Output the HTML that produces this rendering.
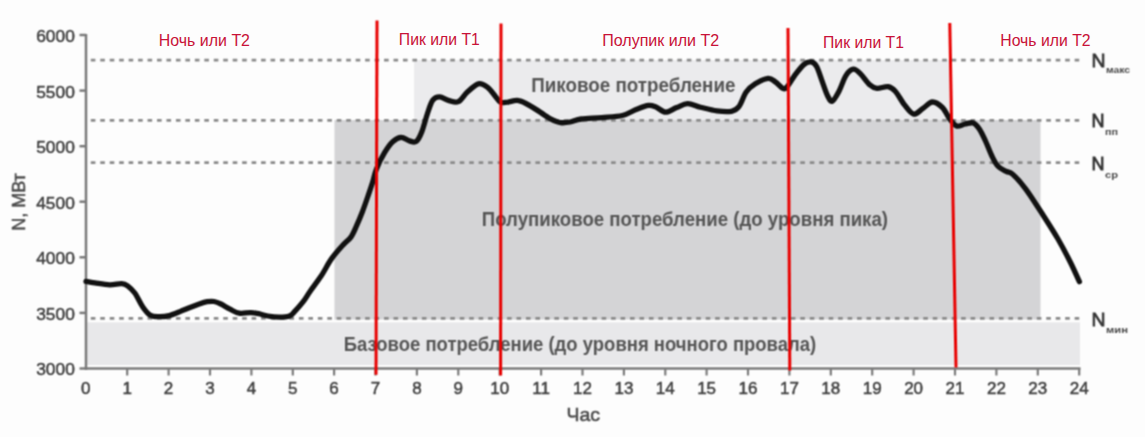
<!DOCTYPE html>
<html><head><meta charset="utf-8">
<style>
html,body{margin:0;padding:0;background:#fff;}
svg{display:block;}

text{font-family:"Liberation Sans",sans-serif;}
</style></head>
<body>
<svg width="1145" height="437" viewBox="0 0 1145 437">
<defs><filter id="soft" x="0" y="0" width="1145" height="437" filterUnits="userSpaceOnUse" color-interpolation-filters="sRGB"><feConvolveMatrix order="3" kernelMatrix="1 2 1 2 4 2 1 2 1" divisor="16" edgeMode="duplicate"/></filter></defs>
<g filter="url(#soft)">
<rect x="-10" y="-10" width="1165" height="457" fill="#fdfdfd"/>
<rect x="86" y="322.3" width="994" height="42.7" fill="#e8e8ea"/>
<rect x="334.5" y="120" width="706" height="199.5" fill="#d4d4d6"/>
<rect x="414" y="60" width="536" height="60" fill="#ebebed"/>
<g stroke="#8a8a8a" stroke-width="2.7" stroke-dasharray="4.6 4.86" fill="none">
<line x1="90.8" y1="60.2" x2="1080" y2="60.2"/>
<line x1="90.8" y1="120.3" x2="1080" y2="120.3"/>
<line x1="90.8" y1="162.6" x2="1080" y2="162.6"/>
<line x1="90.8" y1="318.4" x2="1080" y2="318.4"/>
</g>
<g stroke="#7a7a7a" stroke-width="2.5" fill="none">
<line x1="86" y1="34" x2="86" y2="370"/>
<line x1="84.8" y1="368.5" x2="1080.5" y2="368.5"/>
<line x1="79.5" y1="35.0" x2="86" y2="35.0"/>
<line x1="79.5" y1="90.6" x2="86" y2="90.6"/>
<line x1="79.5" y1="146.2" x2="86" y2="146.2"/>
<line x1="79.5" y1="201.7" x2="86" y2="201.7"/>
<line x1="79.5" y1="257.3" x2="86" y2="257.3"/>
<line x1="79.5" y1="312.9" x2="86" y2="312.9"/>
<line x1="79.5" y1="368.5" x2="86" y2="368.5"/>
</g>
<g stroke="#7a7a7a" stroke-width="2.2">
<line x1="127.2" y1="368.5" x2="127.2" y2="375.5"/>
<line x1="168.6" y1="368.5" x2="168.6" y2="375.5"/>
<line x1="210.0" y1="368.5" x2="210.0" y2="375.5"/>
<line x1="251.4" y1="368.5" x2="251.4" y2="375.5"/>
<line x1="292.8" y1="368.5" x2="292.8" y2="375.5"/>
<line x1="334.1" y1="368.5" x2="334.1" y2="375.5"/>
<line x1="375.5" y1="368.5" x2="375.5" y2="375.5"/>
<line x1="416.9" y1="368.5" x2="416.9" y2="375.5"/>
<line x1="458.3" y1="368.5" x2="458.3" y2="375.5"/>
<line x1="499.7" y1="368.5" x2="499.7" y2="375.5"/>
<line x1="541.1" y1="368.5" x2="541.1" y2="375.5"/>
<line x1="582.5" y1="368.5" x2="582.5" y2="375.5"/>
<line x1="623.9" y1="368.5" x2="623.9" y2="375.5"/>
<line x1="665.3" y1="368.5" x2="665.3" y2="375.5"/>
<line x1="706.6" y1="368.5" x2="706.6" y2="375.5"/>
<line x1="748.0" y1="368.5" x2="748.0" y2="375.5"/>
<line x1="789.4" y1="368.5" x2="789.4" y2="375.5"/>
<line x1="830.8" y1="368.5" x2="830.8" y2="375.5"/>
<line x1="872.2" y1="368.5" x2="872.2" y2="375.5"/>
<line x1="913.6" y1="368.5" x2="913.6" y2="375.5"/>
<line x1="955.0" y1="368.5" x2="955.0" y2="375.5"/>
<line x1="996.4" y1="368.5" x2="996.4" y2="375.5"/>
<line x1="1037.8" y1="368.5" x2="1037.8" y2="375.5"/>
<line x1="1079.2" y1="368.5" x2="1079.2" y2="375.5"/>
</g>
<text x="74.8" y="41.9" font-size="17" font-weight="normal" fill="#404040" text-anchor="end" textLength="38.6" lengthAdjust="spacingAndGlyphs" stroke="#404040" stroke-width="0.5">6000</text>
<text x="74.8" y="97.5" font-size="17" font-weight="normal" fill="#404040" text-anchor="end" textLength="38.6" lengthAdjust="spacingAndGlyphs" stroke="#404040" stroke-width="0.5">5500</text>
<text x="74.8" y="153.1" font-size="17" font-weight="normal" fill="#404040" text-anchor="end" textLength="38.6" lengthAdjust="spacingAndGlyphs" stroke="#404040" stroke-width="0.5">5000</text>
<text x="74.8" y="208.6" font-size="17" font-weight="normal" fill="#404040" text-anchor="end" textLength="38.6" lengthAdjust="spacingAndGlyphs" stroke="#404040" stroke-width="0.5">4500</text>
<text x="74.8" y="264.2" font-size="17" font-weight="normal" fill="#404040" text-anchor="end" textLength="38.6" lengthAdjust="spacingAndGlyphs" stroke="#404040" stroke-width="0.5">4000</text>
<text x="74.8" y="319.8" font-size="17" font-weight="normal" fill="#404040" text-anchor="end" textLength="38.6" lengthAdjust="spacingAndGlyphs" stroke="#404040" stroke-width="0.5">3500</text>
<text x="74.8" y="375.4" font-size="17" font-weight="normal" fill="#404040" text-anchor="end" textLength="38.6" lengthAdjust="spacingAndGlyphs" stroke="#404040" stroke-width="0.5">3000</text>
<text x="85.8" y="394.2" font-size="17" font-weight="normal" fill="#404040" text-anchor="middle" stroke="#404040" stroke-width="0.5">0</text>
<text x="127.2" y="394.2" font-size="17" font-weight="normal" fill="#404040" text-anchor="middle" stroke="#404040" stroke-width="0.5">1</text>
<text x="168.6" y="394.2" font-size="17" font-weight="normal" fill="#404040" text-anchor="middle" stroke="#404040" stroke-width="0.5">2</text>
<text x="210.0" y="394.2" font-size="17" font-weight="normal" fill="#404040" text-anchor="middle" stroke="#404040" stroke-width="0.5">3</text>
<text x="251.4" y="394.2" font-size="17" font-weight="normal" fill="#404040" text-anchor="middle" stroke="#404040" stroke-width="0.5">4</text>
<text x="292.8" y="394.2" font-size="17" font-weight="normal" fill="#404040" text-anchor="middle" stroke="#404040" stroke-width="0.5">5</text>
<text x="334.1" y="394.2" font-size="17" font-weight="normal" fill="#404040" text-anchor="middle" stroke="#404040" stroke-width="0.5">6</text>
<text x="375.5" y="394.2" font-size="17" font-weight="normal" fill="#404040" text-anchor="middle" stroke="#404040" stroke-width="0.5">7</text>
<text x="416.9" y="394.2" font-size="17" font-weight="normal" fill="#404040" text-anchor="middle" stroke="#404040" stroke-width="0.5">8</text>
<text x="458.3" y="394.2" font-size="17" font-weight="normal" fill="#404040" text-anchor="middle" stroke="#404040" stroke-width="0.5">9</text>
<text x="499.7" y="394.2" font-size="17" font-weight="normal" fill="#404040" text-anchor="middle" stroke="#404040" stroke-width="0.5">10</text>
<text x="541.1" y="394.2" font-size="17" font-weight="normal" fill="#404040" text-anchor="middle" stroke="#404040" stroke-width="0.5">11</text>
<text x="582.5" y="394.2" font-size="17" font-weight="normal" fill="#404040" text-anchor="middle" stroke="#404040" stroke-width="0.5">12</text>
<text x="623.9" y="394.2" font-size="17" font-weight="normal" fill="#404040" text-anchor="middle" stroke="#404040" stroke-width="0.5">13</text>
<text x="665.3" y="394.2" font-size="17" font-weight="normal" fill="#404040" text-anchor="middle" stroke="#404040" stroke-width="0.5">14</text>
<text x="706.6" y="394.2" font-size="17" font-weight="normal" fill="#404040" text-anchor="middle" stroke="#404040" stroke-width="0.5">15</text>
<text x="748.0" y="394.2" font-size="17" font-weight="normal" fill="#404040" text-anchor="middle" stroke="#404040" stroke-width="0.5">16</text>
<text x="789.4" y="394.2" font-size="17" font-weight="normal" fill="#404040" text-anchor="middle" stroke="#404040" stroke-width="0.5">17</text>
<text x="830.8" y="394.2" font-size="17" font-weight="normal" fill="#404040" text-anchor="middle" stroke="#404040" stroke-width="0.5">18</text>
<text x="872.2" y="394.2" font-size="17" font-weight="normal" fill="#404040" text-anchor="middle" stroke="#404040" stroke-width="0.5">19</text>
<text x="913.6" y="394.2" font-size="17" font-weight="normal" fill="#404040" text-anchor="middle" stroke="#404040" stroke-width="0.5">20</text>
<text x="955.0" y="394.2" font-size="17" font-weight="normal" fill="#404040" text-anchor="middle" stroke="#404040" stroke-width="0.5">21</text>
<text x="996.4" y="394.2" font-size="17" font-weight="normal" fill="#404040" text-anchor="middle" stroke="#404040" stroke-width="0.5">22</text>
<text x="1037.8" y="394.2" font-size="17" font-weight="normal" fill="#404040" text-anchor="middle" stroke="#404040" stroke-width="0.5">23</text>
<text x="1079.2" y="394.2" font-size="17" font-weight="normal" fill="#404040" text-anchor="middle" stroke="#404040" stroke-width="0.5">24</text>
<text x="531.2" y="91.5" font-size="20" font-weight="bold" fill="#555555" text-anchor="start" textLength="204.3" lengthAdjust="spacingAndGlyphs">Пиковое потребление</text>
<text x="481.8" y="226.2" font-size="20" font-weight="bold" fill="#555555" text-anchor="start" textLength="406.2" lengthAdjust="spacingAndGlyphs">Полупиковое потребление (до уровня пика)</text>
<text x="343.8" y="351.0" font-size="20" font-weight="bold" fill="#555555" text-anchor="start" textLength="472.4" lengthAdjust="spacingAndGlyphs">Базовое потребление (до уровня ночного провала)</text>
<text x="566.5" y="420.8" font-size="19" font-weight="normal" fill="#4a4a4a" text-anchor="start" textLength="33.5" lengthAdjust="spacingAndGlyphs" stroke="#4a4a4a" stroke-width="0.55">Час</text>
<text transform="translate(25,202) rotate(-90)" font-size="18" fill="#4a4a4a" stroke="#4a4a4a" stroke-width="0.5" text-anchor="middle">N, МВт</text>
<path d="M86.0 281.4 C87.5 281.6 91.0 282.2 94.9 282.8 C98.9 283.4 105.2 284.7 109.7 284.8 C114.2 284.9 118.6 283.4 121.6 283.6 C124.6 283.8 125.4 284.2 127.6 285.8 C129.8 287.4 132.5 289.9 135.0 293.3 C137.5 296.8 140.0 302.9 142.5 306.5 C145.0 310.1 147.2 313.3 149.9 315.0 C152.6 316.7 155.6 316.6 158.8 316.7 C162.0 316.8 165.5 316.5 169.2 315.6 C172.9 314.7 177.6 312.5 181.1 311.1 C184.6 309.8 187.0 308.7 190.0 307.5 C193.0 306.3 196.3 305.0 199.2 304.0 C202.1 303.0 204.7 302.1 207.2 301.7 C209.7 301.3 211.7 301.1 214.0 301.5 C216.3 301.9 218.2 302.7 220.9 304.0 C223.6 305.3 226.9 307.7 230.0 309.2 C233.1 310.7 235.8 312.6 239.2 313.2 C242.6 313.8 247.4 312.5 250.6 312.6 C253.8 312.7 255.7 313.1 258.6 313.7 C261.5 314.3 264.4 315.4 267.8 316.0 C271.2 316.6 275.6 317.2 279.2 317.2 C282.8 317.2 286.8 317.1 289.5 316.0 C292.2 314.9 292.9 313.3 295.2 310.9 C297.5 308.5 300.7 304.9 303.2 301.7 C305.7 298.4 307.0 295.7 310.0 291.4 C313.0 287.1 317.5 281.4 321.1 276.0 C324.7 270.6 327.8 264.0 331.4 258.9 C335.0 253.7 339.6 248.7 342.9 245.1 C346.1 241.5 348.6 240.3 350.9 237.1 C353.2 233.9 354.7 229.9 356.6 225.7 C358.5 221.5 360.4 216.9 362.3 212.0 C364.2 207.1 366.3 200.9 368.0 196.0 C369.7 191.1 371.2 186.8 372.6 182.3 C374.0 177.8 374.5 173.9 376.5 168.9 C378.5 163.9 381.9 157.0 384.7 152.4 C387.4 147.8 390.2 143.9 393.0 141.4 C395.8 138.9 398.4 137.4 401.2 137.3 C403.9 137.2 407.0 140.2 409.5 140.9 C412.0 141.6 414.2 142.9 416.3 141.4 C418.4 139.9 420.0 136.4 421.8 131.8 C423.6 127.2 425.5 119.3 427.3 114.0 C429.1 108.7 430.7 103.0 432.8 100.2 C434.9 97.4 437.0 96.8 439.7 96.9 C442.4 97.0 446.0 99.8 449.1 100.6 C452.2 101.4 455.2 103.1 458.3 101.7 C461.4 100.3 464.0 95.0 467.4 92.0 C470.8 89.0 475.0 84.6 478.4 83.8 C481.8 83.0 484.9 85.4 487.6 87.4 C490.4 89.4 492.8 93.2 494.9 95.7 C497.0 98.2 498.3 101.0 500.4 102.1 C502.5 103.2 504.6 102.3 507.7 102.1 C510.8 101.8 514.7 99.8 518.7 100.6 C522.7 101.3 527.2 104.2 531.5 106.6 C535.8 109.0 541.0 112.8 544.3 114.9 C547.5 117.0 548.3 117.8 551.0 119.1 C553.7 120.4 557.4 122.1 560.6 122.6 C563.8 123.1 566.8 122.6 570.2 122.0 C573.6 121.4 575.9 119.7 581.2 119.0 C586.5 118.3 594.9 118.2 601.8 117.6 C608.7 117.0 616.7 116.8 622.4 115.5 C628.1 114.2 631.8 111.2 636.1 109.5 C640.5 107.8 645.2 105.8 648.5 105.4 C651.8 105.0 653.1 105.9 656.0 107.0 C658.9 108.1 662.2 112.1 665.6 112.2 C669.0 112.3 672.9 109.0 676.6 107.6 C680.3 106.2 683.6 103.7 687.6 103.6 C691.6 103.5 695.5 106.0 700.4 107.2 C705.3 108.4 711.7 110.2 716.9 110.9 C722.1 111.6 727.8 112.0 731.5 111.3 C735.2 110.6 736.4 109.9 738.9 106.7 C741.4 103.5 743.5 95.8 746.2 92.0 C748.9 88.2 751.6 86.1 755.3 83.8 C758.9 81.5 764.7 78.6 768.1 78.3 C771.5 78.0 773.0 80.3 775.5 82.0 C778.0 83.7 780.8 87.6 782.8 88.4 C784.8 89.2 785.3 88.7 787.3 86.6 C789.3 84.5 791.9 79.3 794.6 75.6 C797.4 71.9 801.0 66.9 803.8 64.6 C806.5 62.3 809.0 61.6 811.1 61.9 C813.2 62.2 814.8 63.3 816.6 66.5 C818.4 69.7 820.3 76.2 822.1 81.1 C823.9 86.0 825.9 92.4 827.6 95.8 C829.3 99.2 830.4 101.9 832.2 101.3 C834.0 100.7 836.3 96.4 838.6 92.1 C840.9 87.8 843.5 79.4 845.9 75.6 C848.3 71.8 850.8 69.5 853.2 69.2 C855.6 68.9 857.8 71.2 860.5 73.8 C863.2 76.4 867.0 82.4 869.7 84.8 C872.5 87.2 874.0 88.1 877.0 88.4 C880.0 88.7 885.0 86.1 888.0 86.6 C891.0 87.1 892.5 88.2 895.3 91.2 C898.0 94.2 901.5 101.1 904.5 104.9 C907.5 108.7 910.6 113.5 913.6 114.1 C916.6 114.7 919.7 110.6 922.8 108.6 C925.9 106.6 929.1 102.2 932.4 102.0 C935.7 101.8 939.5 104.7 942.4 107.5 C945.3 110.3 947.2 115.8 949.6 118.9 C952.0 122.0 954.2 125.2 956.8 126.1 C959.4 126.9 962.4 124.5 965.1 124.0 C967.9 123.5 970.9 122.1 973.3 123.0 C975.7 123.9 977.4 126.1 979.5 129.2 C981.6 132.3 983.6 137.0 985.7 141.5 C987.8 146.0 989.9 151.9 991.9 156.0 C993.9 160.1 995.6 163.7 998.0 166.3 C1000.4 168.9 1003.8 170.1 1006.3 171.4 C1008.8 172.8 1009.6 171.5 1012.8 174.4 C1016.0 177.3 1020.8 182.4 1025.6 188.8 C1030.4 195.2 1036.2 204.5 1041.6 212.8 C1046.9 221.1 1052.9 230.2 1057.7 238.5 C1062.5 246.8 1066.9 255.3 1070.5 262.5 C1074.1 269.7 1077.9 278.5 1079.4 281.7" fill="none" stroke="#111" stroke-width="5.3" stroke-linecap="round" stroke-linejoin="round"/>
<g stroke="#e80000" stroke-width="3" fill="none">
<line x1="377" y1="20.4" x2="376" y2="374.8"/>
<line x1="501" y1="23.6" x2="500.6" y2="375.6"/>
<line x1="788" y1="28" x2="789.8" y2="370.4"/>
<line x1="949.8" y1="23" x2="956" y2="367.5"/>
</g>
<g fill="#333" stroke="#333" stroke-width="0.8">
<text x="1091.5" y="66.5" font-size="19" textLength="14" lengthAdjust="spacingAndGlyphs">N</text><text x="1106" y="73" font-size="9" fill="#484848" stroke="none" font-weight="bold" textLength="24" lengthAdjust="spacingAndGlyphs">макс</text>
<text x="1091.5" y="126.5" font-size="18" textLength="13" lengthAdjust="spacingAndGlyphs">N</text><text x="1105" y="134.5" font-size="9" fill="#484848" stroke="none" font-weight="bold" textLength="13" lengthAdjust="spacingAndGlyphs">пп</text>
<text x="1091.5" y="169.5" font-size="18" textLength="13" lengthAdjust="spacingAndGlyphs">N</text><text x="1105" y="177.5" font-size="9" fill="#484848" stroke="none" font-weight="bold" textLength="13" lengthAdjust="spacingAndGlyphs">ср</text>
<text x="1091.5" y="325.8" font-size="19" textLength="14" lengthAdjust="spacingAndGlyphs">N</text><text x="1106" y="333" font-size="9" fill="#484848" stroke="none" font-weight="bold" textLength="22" lengthAdjust="spacingAndGlyphs">мин</text>
</g>
</g>
<text x="158.8" y="46.4" font-size="15.6" font-weight="normal" fill="#c81238" text-anchor="start" textLength="91.2" lengthAdjust="spacingAndGlyphs">Ночь или Т2</text>
<text x="398.8" y="44.7" font-size="15.6" font-weight="normal" fill="#c81238" text-anchor="start" textLength="81.1" lengthAdjust="spacingAndGlyphs">Пик или Т1</text>
<text x="602.2" y="46.4" font-size="15.6" font-weight="normal" fill="#c81238" text-anchor="start" textLength="117.0" lengthAdjust="spacingAndGlyphs">Полупик или Т2</text>
<text x="823.0" y="48.3" font-size="15.6" font-weight="normal" fill="#c81238" text-anchor="start" textLength="81.0" lengthAdjust="spacingAndGlyphs">Пик или Т1</text>
<text x="1000.3" y="45.5" font-size="15.6" font-weight="normal" fill="#c81238" text-anchor="start" textLength="90.3" lengthAdjust="spacingAndGlyphs">Ночь или Т2</text>
</svg>
</body></html>
